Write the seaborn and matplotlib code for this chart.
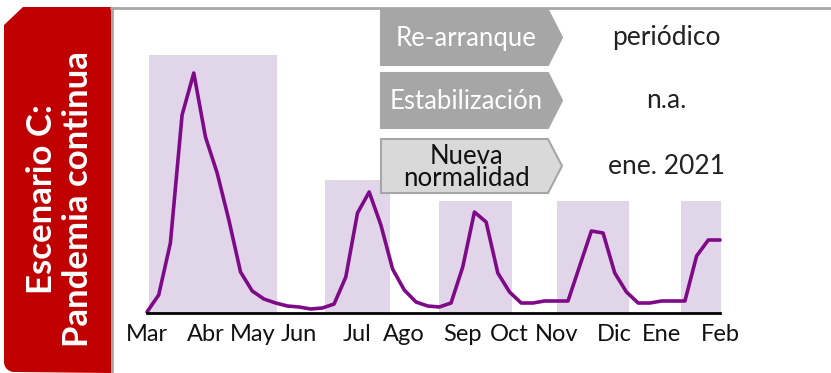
import numpy as np
import pandas as pd
import seaborn as sns
import matplotlib.pyplot as plt
from matplotlib.patches import Polygon
from matplotlib.lines import Line2D

# weekly index, Mar 2020 -> Feb 2021 (relative activity level)
weekly_values = [1, 18, 70, 198, 240, 176, 140, 93, 41, 22, 14, 10, 7, 6, 4, 5,
                 9, 36, 100, 121, 88, 44, 23, 11, 7, 6, 10, 46, 101, 91, 40, 21,
                 10, 10, 12, 12, 12, 47, 82, 80, 40, 21, 10, 10, 12, 12, 12, 57,
                 73, 73]

month_labels = ['Mar', 'Abr', 'May', 'Jun', 'Jul', 'Ago', 'Sep', 'Oct', 'Nov', 'Dic', 'Ene', 'Feb']
month_weeks = [0, 5, 9, 13, 18, 22, 27, 31, 35, 40, 44, 49]

# restriction periods (shaded bands)
band_start = [0.2, 15.2, 25.0, 35.1, 45.7]
band_end = [11.1, 20.8, 31.2, 41.2, 49.1]
band_height = [258, 133, 112, 112, 112]

phase_labels = ['Re-arranque', 'Estabilización', 'Nueva\nnormalidad']
phase_values = ['periódico', 'n.a.', 'ene. 2021']

df = pd.DataFrame({'week': np.arange(len(weekly_values)), 'value': weekly_values})

sns.set_style('white')
plt.rcParams['font.family'] = ['Lato', 'DejaVu Sans']

W, H = 831, 373
fig = plt.figure(figsize=(W / 100, H / 100), dpi=100)

def fx(px):
    return px / W

def fy(py):
    return 1 - py / H

# main chart axes
ax_left, ax_right, ax_top, ax_bottom = 130, 740, 20, 313
ax = fig.add_axes([fx(ax_left), fy(ax_bottom), (ax_right - ax_left) / W, (ax_bottom - ax_top) / H])
step = 573 / 49
ax.set_xlim((ax_left - 147) / step, (ax_right - 147) / step)
ax.set_ylim(0, ax_bottom - ax_top)

ax.bar(band_start, band_height, width=np.array(band_end) - np.array(band_start),
       align='edge', color='#E1D5EA', linewidth=0, zorder=1)
sns.lineplot(data=df, x='week', y='value', ax=ax, color='#7F0A88', linewidth=2.6, zorder=3)

for s in ['top', 'right', 'left']:
    ax.spines[s].set_visible(False)
ax.spines['bottom'].set_bounds(0, 49)
ax.spines['bottom'].set_color('black')
ax.spines['bottom'].set_linewidth(2)
ax.spines['bottom'].set_zorder(4)
ax.set_yticks([])
ax.set_xticks(month_weeks)
ax.set_xticklabels(month_labels, fontsize=17, color='#111111')
ax.tick_params(axis='x', length=0, pad=8)
ax.set_xlabel('')
ax.set_ylabel('')
ax.patch.set_alpha(0)

# gray frame
fig.add_artist(Line2D([fx(111), fx(831)], [fy(8), fy(8)], color='#A6A6A6', lw=2))
fig.add_artist(Line2D([fx(112), fx(112)], [fy(8), fy(373)], color='#A6A6A6', lw=2))

# red side panel with chamfered top-left and rounded bottom-left
r = 10
arc = [(4 + r - r * np.cos(t), 372 - r + r * np.sin(t)) for t in np.linspace(0, np.pi / 2, 8)]
red_pts = [(23, 7), (111, 7), (111, 373)] + arc[::-1] + [(4, 25)]
fig.add_artist(Polygon([(fx(x), fy(y)) for x, y in red_pts], closed=True,
                       facecolor='#C00000', edgecolor='none'))
fig.text(fx(60), fy(199), 'Escenario C:\nPandemia continua', rotation=90, color='white',
         fontsize=25, fontweight='bold', ha='center', va='center', linespacing=1.12)

# chevron boxes
box_tops = [10, 73, 139]
box_bottoms = [65, 128, 193]
for i, (lab, val) in enumerate(zip(phase_labels, phase_values)):
    t, b = box_tops[i], box_bottoms[i]
    m = (t + b) / 2
    pts = [(381, t), (548, t), (562, m), (548, b), (381, b)]
    light = i == 2
    fig.add_artist(Polygon([(fx(x), fy(y)) for x, y in pts], closed=True,
                           facecolor='#D9D9D9' if light else '#A6A6A6',
                           edgecolor='#A6A6A6', lw=1.5))
    fig.text(fx(466), fy(m + 1), lab, color='#111111' if light else 'white',
             fontsize=18.5, ha='center', va='center', linespacing=0.85)
    fig.text(fx(666), fy(m), val, color='#222222', fontsize=19, ha='center', va='center')

fig.savefig('out.png', dpi=100)
